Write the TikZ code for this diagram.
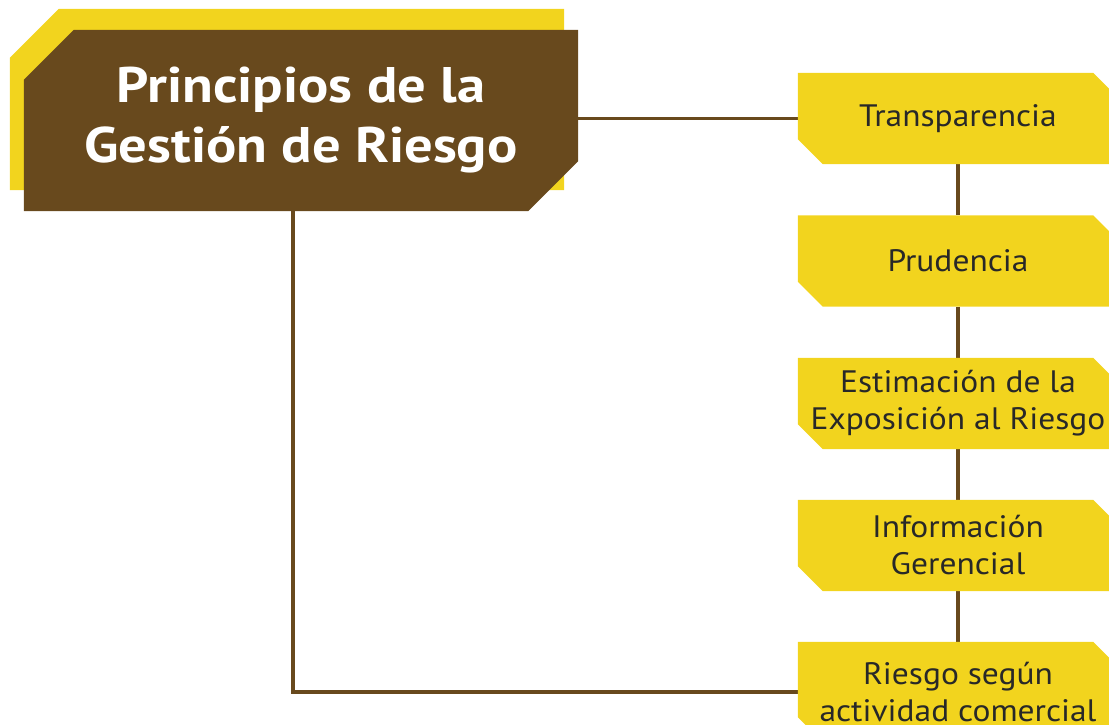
\documentclass[tikz,border=0pt]{standalone}
\usepackage{fontspec}
\setmainfont{PT Sans}
\newfontfamily\titlefont[FakeStretch=1.13]{PT Sans}
\newfontfamily\itemfont[FakeStretch=1.08]{PT Sans}
\definecolor{gold}{RGB}{242,212,30}
\definecolor{umber}{RGB}{104,73,29}
\definecolor{ink}{RGB}{40,40,40}
\pgfdeclarelayer{bg}
\pgfdeclarelayer{fills}
\pgfsetlayers{bg,fills,main}
\newcommand{\itemfill}[1]{%
  \fill[gold] (#1.north west) -- ([xshift=-25pt]#1.north east) -- ([yshift=-25pt]#1.north east)
    -- (#1.south east) -- ([xshift=25pt]#1.south west) -- ([yshift=25pt]#1.south west) -- cycle;}
\begin{document}
\begin{tikzpicture}[x=1pt,y=-1pt,
  item/.style={rectangle, draw=none, inner sep=0pt, minimum width=320pt, minimum height=91pt,
    align=center, text=ink, font=\itemfont\fontsize{31}{37}\selectfont},
  titlebox/.style={rectangle, draw=none, inner sep=0pt, minimum width=554pt, minimum height=181pt,
    align=center, text=white, font=\titlefont\bfseries\fontsize{50}{60}\selectfont},
  backbox/.style={rectangle, draw=none, inner sep=0pt, minimum width=554pt, minimum height=181pt},
  link/.style={draw=umber, line width=3.5pt}]
\useasboundingbox (0,0) rectangle (1109,725);
\node[backbox] (back) at (287,99.5) {};
\node[titlebox] (title) at (301,120.5) {Principios de la\\Gestión de Riesgo};
\node[item] (t) at (958,118.5) {Transparencia};
\node[item] (p) at (958,261) {Prudencia};
\node[item] (e) at (958,403.5) {Estimación de la\\Exposición al Riesgo};
\node[item] (i) at (958,545.5) {Información\\Gerencial};
\node[item, minimum height=100pt] (r) at (958,692) {Riesgo según\\actividad comercial};
\coordinate (drop) at ([xshift=-8pt]title.south);
\begin{pgfonlayer}{fills}
\fill[gold] ([yshift=-49pt]back.north west) -- ([xshift=49pt]back.north west) -- (back.north east)
  -- (back.south east) -- (back.south west) -- cycle;
\fill[umber] ([yshift=-50pt]title.north west) -- ([xshift=50pt]title.north west) -- (title.north east)
  -- ([yshift=50pt]title.south east) -- ([xshift=-50pt]title.south east) -- (title.south west) -- cycle;
\itemfill{t}
\itemfill{p}
\itemfill{e}
\itemfill{i}
\itemfill{r}
\end{pgfonlayer}
\begin{pgfonlayer}{bg}
\draw[link] (title.east |- t.west) -- (t.west);
\draw[link] (t) -- (p);
\draw[link] (p) -- (e);
\draw[link] (e) -- (i);
\draw[link] (i) -- (r);
\draw[link] (drop) |- (r.west);
\end{pgfonlayer}
\end{tikzpicture}
\end{document}
